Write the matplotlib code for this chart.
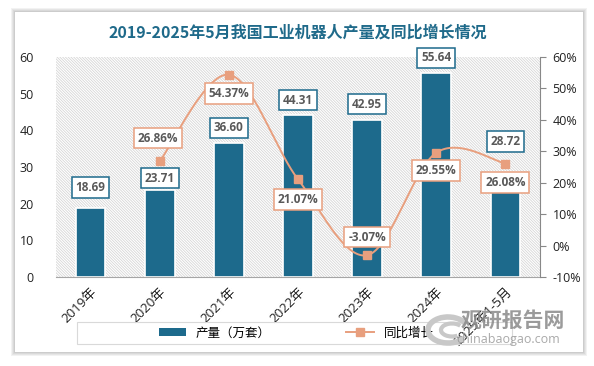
import matplotlib
matplotlib.use("Agg")
import matplotlib.pyplot as plt
import numpy as np
from matplotlib.patches import Rectangle, Patch, Arc
from matplotlib.lines import Line2D

plt.rcParams['font.family'] = ['Open Sans', 'Noto Sans CJK SC', 'DejaVu Sans']
plt.rcParams['hatch.linewidth'] = 0.6

# data
years = ["2019年", "2020年", "2021年", "2022年", "2023年", "2024年", "2025年1-5月"]
output = [18.69, 23.71, 36.60, 44.31, 42.95, 55.64, 28.72]
growth = [None, 26.86, 54.37, 21.07, -3.07, 29.55, 26.08]

bar_color = "#1d6a8c"
line_color = "#e89f7e"
label_gray = "#595959"

W, H = 594, 366
fig = plt.figure(figsize=(W / 100, H / 100), dpi=100)
fig.patch.set_facecolor("white")

# card with soft shadow
for i, a in enumerate([0.05, 0.05, 0.05, 0.06]):
    g = 4 - i
    fig.patches.append(Rectangle(((15 - g) / W, 1 - (352 + g) / H), (568 + 2 * g) / W, (340 + 2 * g) / H,
                                 transform=fig.transFigure, facecolor="black", alpha=a,
                                 edgecolor="none", zorder=-20))
fig.patches.append(Rectangle((15 / W, 1 - 352 / H), 568 / W, 340 / H, transform=fig.transFigure,
                             facecolor="white", edgecolor="none", zorder=-19))

fig.text(298 / W, 1 - 33 / H, "2019-2025年5月我国工业机器人产量及同比增长情况",
         ha="center", va="center", fontsize=11.5, fontweight="bold", color="#1f6a8a",
         family=['Noto Sans CJK SC', 'DejaVu Sans'])

ax = fig.add_axes([56 / W, 1 - 277 / H, 484 / W, 220 / H])
ax.patch.set_alpha(0)
ax.add_patch(Rectangle((0, 0), 1, 1, transform=ax.transAxes, facecolor="white",
                       edgecolor="#d6d6d6", hatch="\\" * 12, linewidth=0, zorder=0))

x = np.arange(len(years))
ax.bar(x, output, width=0.43, color=bar_color, edgecolor="white", linewidth=1.2, zorder=2)
ax.set_xlim(-0.5, len(years) - 0.5)
ax.set_ylim(0, 60)
ax.set_yticks(range(0, 61, 10))
ax.tick_params(axis="y", length=0, labelsize=9, labelcolor="#222", pad=16)
ax.tick_params(axis="x", length=0, labelsize=9.5, labelcolor="#222", pad=6)
ax.set_xticks(x)
ax.set_xticklabels(years, rotation=45, ha="right", va="top", rotation_mode="anchor")
for s in ["top", "left", "right"]:
    ax.spines[s].set_visible(False)
ax.spines["bottom"].set_color("#a6a6a6")

bar_offsets = [21, 12, 15, 14.5, 15.5, 15, 30]
for xi, v, off in zip(x, output, bar_offsets):
    ax.annotate("%.2f" % v, (xi, v), xytext=(0, off), textcoords="offset pixels",
                ha="center", va="center", fontsize=8.5, fontweight="bold", color=label_gray,
                bbox=dict(boxstyle="square,pad=0.32", facecolor="white", edgecolor=bar_color, linewidth=1.1),
                zorder=6)

ax2 = ax.twinx()
ax2.set_ylim(-10, 60)
ax2.set_yticks(range(-10, 61, 10))
ax2.set_yticklabels(["%d%%" % t for t in range(-10, 61, 10)])
ax2.tick_params(axis="y", length=4, color="#888", labelsize=9, labelcolor="#222", pad=5)
for s in ["top", "left", "bottom"]:
    ax2.spines[s].set_visible(False)
ax2.spines["right"].set_color("#888")

# smoothed line (Excel-style bezier through the points)
gx = [xi for xi, g in zip(x, growth) if g is not None]
gy = [g for g in growth if g is not None]
pts = np.array(list(zip(gx, gy)), dtype=float)
t = np.linspace(0, 1, 40)[:, None]
curve = []
for i in range(len(pts) - 1):
    p0 = pts[i - 1] if i > 0 else pts[i]
    p1, p2 = pts[i], pts[i + 1]
    p3 = pts[i + 2] if i + 2 < len(pts) else pts[i + 1]
    c1 = p1 + (p2 - p0) / 6
    c2 = p2 - (p3 - p1) / 6
    seg = (1 - t) ** 3 * p1 + 3 * (1 - t) ** 2 * t * c1 + 3 * (1 - t) * t ** 2 * c2 + t ** 3 * p2
    curve.append(seg)
curve = np.vstack(curve)
ax2.plot(curve[:, 0], curve[:, 1], color=line_color, linewidth=1.4, zorder=3)
ax2.plot(gx, gy, linestyle="none", marker="s", markersize=6, color=line_color, zorder=4)

line_offsets = [(-2, 23), (0, -19), (0, -20), (0, 18), (0, -18), (0, -19)]
for xi, g, off in zip(gx, gy, line_offsets):
    ax2.annotate("%.2f%%" % g, (xi, g), xytext=off, textcoords="offset pixels",
                 ha="center", va="center", fontsize=8.5, fontweight="bold", color=label_gray,
                 bbox=dict(boxstyle="square,pad=0.32", facecolor="white", edgecolor=line_color, linewidth=1.1),
                 zorder=6)

# legend
fig.patches.append(Rectangle((77 / W, 1 - 344 / H), 435 / W, 22 / H, transform=fig.transFigure,
                             facecolor="none", edgecolor="#d9d9d9", linewidth=0.8, zorder=1))
handles = [Patch(facecolor=bar_color, edgecolor="none"),
           Line2D([0], [0], color=line_color, linewidth=1.4, marker="s", markersize=6)]
fig.legend(handles, ["产量（万套）", "同比增长"], loc="center", bbox_to_anchor=(296 / W, 1 - 333 / H),
           ncol=2, frameon=False, fontsize=9, columnspacing=6, handlelength=2.2, handleheight=0.6)

# watermark
fig.patches.append(Arc((448 / W, 1 - 330 / H), 40 / W, 26 / H, theta1=30, theta2=320,
                       transform=fig.transFigure, color="#c8c8c8", linewidth=4, zorder=8))
fig.patches.append(Arc((452 / W, 1 - 330 / H), 22 / W, 13 / H, theta1=40, theta2=300,
                       transform=fig.transFigure, color="#c8c8c8", linewidth=3, zorder=8))
fig.text(513 / W, 1 - 320 / H, "观研报告网", ha="center", va="center", fontsize=15, fontweight="bold",
         color="#8a8a8a", alpha=0.85, family=['Noto Sans CJK SC', 'DejaVu Sans'], zorder=9)
fig.text(508 / W, 1 - 340 / H, "chinabaogao.com", ha="center", va="center", fontsize=9,
         color="#9a9a9a", alpha=0.85, zorder=9)

fig.savefig("out.png", dpi=100)
